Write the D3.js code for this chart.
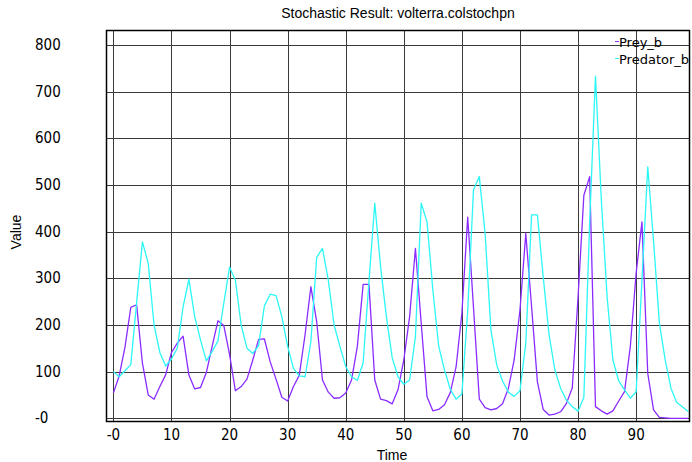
<!DOCTYPE html>
<html>
<head>
<meta charset="utf-8">
<script src="https://cdn.jsdelivr.net/npm/d3@7/dist/d3.min.js"></script>
<style>
	body { margin: 0; background: #fff; }
	svg { display: block; }
	.tick-label { font-family: "Liberation Sans Narrow", "DejaVu Sans Condensed", sans-serif; font-size: 15px; fill: #000; }
	.title, .axis-label { font-family: "Liberation Sans", Arial, sans-serif; font-size: 14px; fill: #000; }
	.legend { font-family: "DejaVu Sans", sans-serif; font-size: 13px; fill: #000; }
</style>
</head>
<body>
<div id="graph"></div>
<script>
// chart data
var time = [0,1,2,3,4,5,6,7,8,9,10,11,12,13,14,15,16,17,18,19,
	20,21,22,23,24,25,26,27,28,29,30,31,32,33,34,35,36,37,38,39,
	40,41,42,43,44,45,46,47,48,49,50,51,52,53,54,55,56,57,58,59,
	60,61,62,63,64,65,66,67,68,69,70,71,72,73,74,75,76,77,78,79,
	80,81,82,83,84,85,86,87,88,89,90,91,92,93,94,95,96,97,98,99];

var prey = [54,91,153,238,243,118,50,41,68,93,141,161,176,93,63,66,98,154,209,199,
	137,59,68,84,125,169,170,121,84,45,37,68,92,179,282,207,82,56,43,44,
	54,82,154,287,287,82,41,38,31,61,125,218,364,203,46,16,19,29,55,110,
	225,431,237,41,23,18,21,31,64,125,232,396,239,78,19,7,9,14,32,65,
	260,478,518,25,16,9,16,37,57,154,311,421,96,18,2,1,0,0,0,0];

var predator = [100,89,102,115,248,378,332,200,141,112,127,150,239,298,218,168,123,143,166,246,
	324,296,200,150,139,156,241,266,263,218,154,107,91,89,164,345,364,296,200,154,
	111,89,81,119,293,461,325,218,130,89,73,82,175,461,421,275,155,104,62,41,
	52,230,490,518,396,189,114,80,56,47,59,161,436,436,303,180,104,64,39,25,
	15,45,420,733,470,260,125,80,61,43,57,296,539,379,204,125,64,34,24,14];

var xTicks = [0,10,20,30,40,50,60,70,80,90],
	xTickLabels = ["-0","10","20","30","40","50","60","70","80","90"],
	yTicks = [0,100,200,300,400,500,600,700,800],
	yTickLabels = ["-0","100","200","300","400","500","600","700","800"];

var seriesNames = ["Prey_b", "Predator_b"],
	seriesColors = ["#8a2cff", "#2cf6f6"];

var SVGwidth = 692,
	SVGheight = 462,
	plot = {left: 107, right: 689, top: 31, bottom: 421};

var svg = d3.select('div#graph')
	.append('svg')
	.attr('width', SVGwidth)
	.attr('height', SVGheight);

var x = d3.scaleLinear()
	.domain([-1.1, 99.1])
	.range([plot.left, plot.right]);

var y = d3.scaleLinear()
	.domain([-5.8, 830])
	.range([plot.bottom, plot.top]);

function px(v) { return Math.round(v) + 0.5; }

svg.append("defs").append("clipPath")
	.attr("id", "clip")
	.append("rect")
	.attr("x", plot.left)
	.attr("y", plot.top)
	.attr("width", SVGwidth - plot.left)
	.attr("height", plot.bottom - plot.top);

// title
svg.append("text")
	.attr("class", "title")
	.attr("x", (plot.left + plot.right) / 2)
	.attr("y", 18)
	.attr("text-anchor", "middle")
	.text("Stochastic Result: volterra.colstochpn");

// grid
var grid = svg.append("g").attr("stroke", "#3a3a3a").attr("stroke-width", 1);

grid.selectAll("line.vgrid")
	.data(xTicks)
	.enter()
	.append("line")
	.attr("x1", function(d) { return px(x(d)); })
	.attr("x2", function(d) { return px(x(d)); })
	.attr("y1", plot.top)
	.attr("y2", plot.bottom);

grid.selectAll("line.hgrid")
	.data(yTicks)
	.enter()
	.append("line")
	.attr("y1", function(d) { return px(y(d)); })
	.attr("y2", function(d) { return px(y(d)); })
	.attr("x1", plot.left)
	.attr("x2", plot.right);

// tick labels
svg.selectAll("text.ylab")
	.data(yTicks)
	.enter()
	.append("text")
	.attr("class", "tick-label")
	.attr("x", 35)
	.attr("y", function(d) { return y(d) + 5; })
	.text(function(d, i) { return yTickLabels[i]; });

svg.selectAll("text.xlab")
	.data(xTicks)
	.enter()
	.append("text")
	.attr("class", "tick-label")
	.attr("x", function(d) { return x(d); })
	.attr("y", 440)
	.attr("text-anchor", "middle")
	.text(function(d, i) { return xTickLabels[i]; });

// axis titles
svg.append("text")
	.attr("class", "axis-label")
	.attr("x", 392)
	.attr("y", 460)
	.attr("text-anchor", "middle")
	.text("Time");

svg.append("text")
	.attr("class", "axis-label")
	.attr("transform", "translate(21,232) rotate(-90)")
	.attr("text-anchor", "middle")
	.text("Value");

// series
var line = d3.line()
	.x(function(d) { return x(d[0]); })
	.y(function(d) { return y(d[1]); });

var lines = svg.append("g").attr("clip-path", "url(#clip)");

[prey, predator].forEach(function(values, i) {
	lines.append("path")
		.datum(time.map(function(t, j) { return [t, values[j]]; }))
		.attr("fill", "none")
		.attr("stroke", seriesColors[i])
		.attr("stroke-width", 1.3)
		.attr("stroke-linejoin", "round")
		.attr("d", line);
});

// frame
svg.append("rect")
	.attr("x", plot.left - 0.5)
	.attr("y", plot.top - 0.5)
	.attr("width", plot.right - plot.left + 1)
	.attr("height", plot.bottom - plot.top + 1)
	.attr("fill", "none")
	.attr("stroke", "#000")
	.attr("stroke-width", 1.5);

// legend
var legend = svg.selectAll("g.legend")
	.data(seriesNames)
	.enter()
	.append("g")
	.attr("transform", function(d, i) { return "translate(615," + (47 + i * 17) + ")"; });

legend.append("line")
	.attr("x1", 0)
	.attr("x2", 4)
	.attr("y1", -5.5)
	.attr("y2", -5.5)
	.attr("stroke", function(d, i) { return seriesColors[i]; })
	.attr("stroke-width", 1);

legend.append("text")
	.attr("class", "legend")
	.attr("x", 4)
	.attr("y", 0)
	.text(function(d) { return d; });
</script>
</body>
</html>
